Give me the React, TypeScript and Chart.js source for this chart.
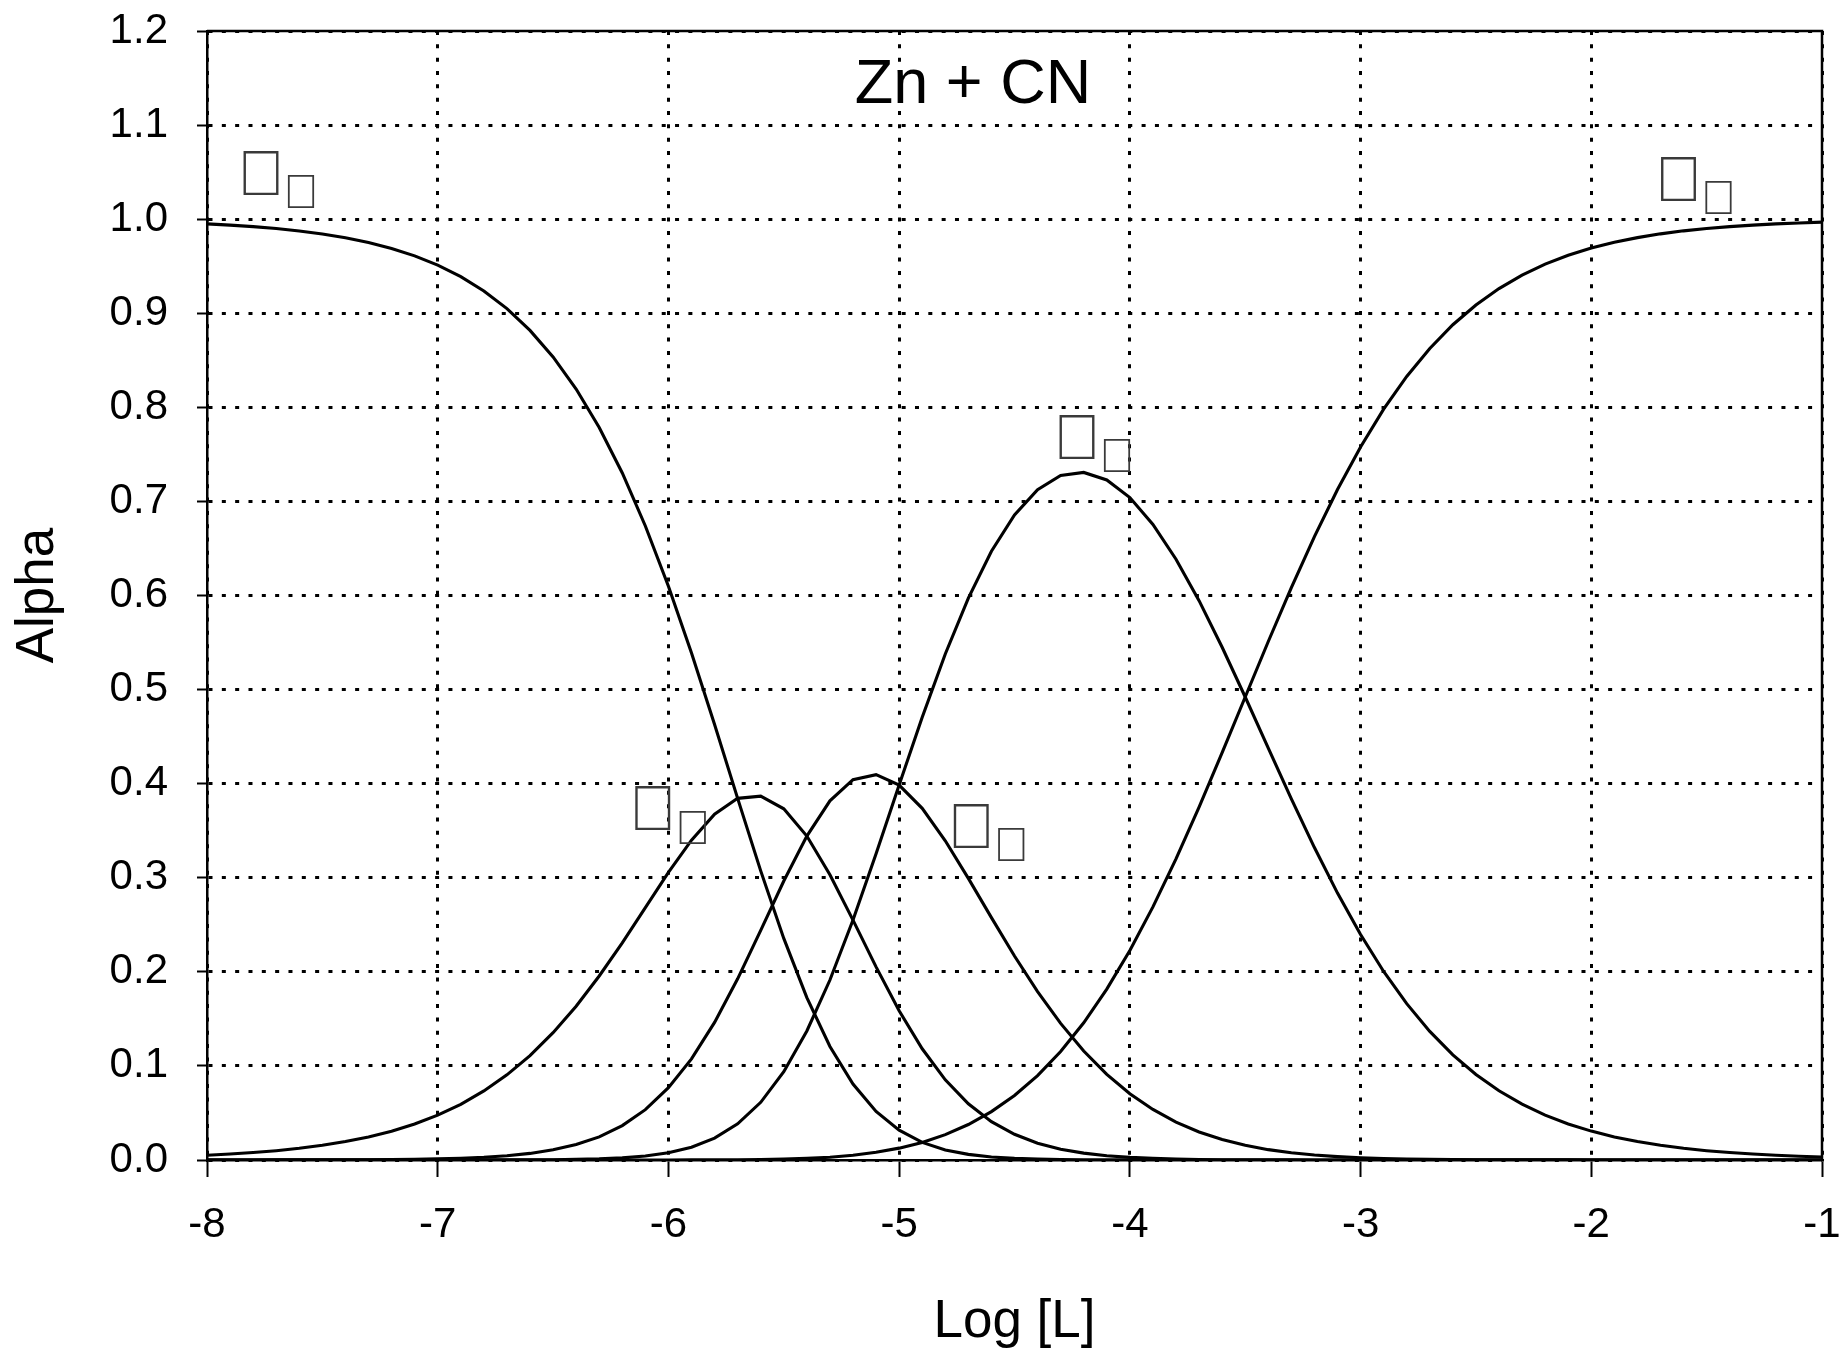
import React, { useEffect, useRef } from "react";
import { Chart, registerables } from "chart.js";

Chart.register(...registerables);

const FONT = '"Liberation Sans", Arial, Helvetica, sans-serif';

const chartTitle = "Zn + CN";
const xAxisTitle = "Log [L]";
const yAxisTitle = "Alpha";

// log [L] values (x)
const logL = [
  -8.0, -7.9, -7.8, -7.7, -7.6, -7.5, -7.4, -7.3, -7.2, -7.1,
  -7.0, -6.9, -6.8, -6.7, -6.6, -6.5, -6.4, -6.3, -6.2, -6.1,
  -6.0, -5.9, -5.8, -5.7, -5.6, -5.5, -5.4, -5.3, -5.2, -5.1,
  -5.0, -4.9, -4.8, -4.7, -4.6, -4.5, -4.4, -4.3, -4.2, -4.1,
  -4.0, -3.9, -3.8, -3.7, -3.6, -3.5, -3.4, -3.3, -3.2, -3.1,
  -3.0, -2.9, -2.8, -2.7, -2.6, -2.5, -2.4, -2.3, -2.2, -2.1,
  -2.0, -1.9, -1.8, -1.7, -1.6, -1.5, -1.4, -1.3, -1.2, -1.1, -1.0,
];

const alpha0 = [
  0.9950, 0.9937, 0.9921, 0.9901, 0.9875, 0.9843, 0.9803, 0.9752, 0.9689, 0.9610,
  0.9511, 0.9389, 0.9237, 0.9049, 0.8818, 0.8536, 0.8195, 0.7786, 0.7302, 0.6739,
  0.6099, 0.5389, 0.4628, 0.3844, 0.3073, 0.2355, 0.1726, 0.1207, 0.0807, 0.0516,
  0.0317, 0.0187, 0.0107, 0.0060, 0.0032, 0.0017, 0.0009, 0.0005, 0.0002, 0.0001,
  0.0001, 0, 0, 0, 0, 0, 0, 0, 0, 0,
  0, 0, 0, 0, 0, 0, 0, 0, 0, 0,
  0, 0, 0, 0, 0, 0, 0, 0, 0, 0, 0,
];

const alpha1 = [
  0.0050, 0.0063, 0.0079, 0.0099, 0.0124, 0.0156, 0.0196, 0.0245, 0.0306, 0.0383,
  0.0477, 0.0592, 0.0734, 0.0905, 0.1110, 0.1353, 0.1635, 0.1956, 0.2309, 0.2683,
  0.3057, 0.3400, 0.3676, 0.3844, 0.3868, 0.3733, 0.3443, 0.3032, 0.2550, 0.2053,
  0.1587, 0.1182, 0.0852, 0.0597, 0.0408, 0.0273, 0.0179, 0.0115, 0.0073, 0.0046,
  0.0028, 0.0017, 0.0010, 0.0006, 0.0003, 0.0002, 0.0001, 0.0001, 0, 0,
  0, 0, 0, 0, 0, 0, 0, 0, 0, 0,
  0, 0, 0, 0, 0, 0, 0, 0, 0, 0, 0,
];

const alpha2 = [
  0, 0, 0, 0.0001, 0.0001, 0.0001, 0.0002, 0.0003, 0.0005, 0.0008,
  0.0012, 0.0019, 0.0029, 0.0045, 0.0070, 0.0108, 0.0164, 0.0246, 0.0366, 0.0535,
  0.0768, 0.1075, 0.1463, 0.1926, 0.2441, 0.2965, 0.3443, 0.3817, 0.4042, 0.4096,
  0.3985, 0.3738, 0.3393, 0.2994, 0.2576, 0.2168, 0.1790, 0.1452, 0.1158, 0.0910,
  0.0704, 0.0537, 0.0403, 0.0298, 0.0217, 0.0156, 0.0110, 0.0077, 0.0053, 0.0036,
  0.0024, 0.0016, 0.0011, 0.0007, 0.0004, 0.0003, 0.0002, 0.0001, 0.0001, 0.0001,
  0, 0, 0, 0, 0, 0, 0, 0, 0, 0, 0,
];

const alpha3 = [
  0, 0, 0, 0, 0, 0, 0, 0, 0, 0,
  0, 0, 0.0001, 0.0001, 0.0002, 0.0003, 0.0007, 0.0012, 0.0023, 0.0043,
  0.0077, 0.0135, 0.0232, 0.0384, 0.0613, 0.0938, 0.1371, 0.1913, 0.2550, 0.3254,
  0.3985, 0.4706, 0.5378, 0.5973, 0.6470, 0.6856, 0.7125, 0.7275, 0.7308, 0.7228,
  0.7041, 0.6756, 0.6386, 0.5945, 0.5450, 0.4921, 0.4378, 0.3839, 0.3321, 0.2837,
  0.2397, 0.2004, 0.1662, 0.1367, 0.1118, 0.0909, 0.0736, 0.0593, 0.0477, 0.0383,
  0.0307, 0.0245, 0.0196, 0.0156, 0.0124, 0.0099, 0.0079, 0.0063, 0.0050, 0.0040, 0.0032,
];

const alpha4 = [
  0, 0, 0, 0, 0, 0, 0, 0, 0, 0,
  0, 0, 0, 0, 0, 0, 0, 0, 0, 0,
  0, 0.0001, 0.0001, 0.0002, 0.0005, 0.0009, 0.0017, 0.0030, 0.0051, 0.0082,
  0.0126, 0.0187, 0.0270, 0.0377, 0.0514, 0.0686, 0.0897, 0.1153, 0.1458, 0.1816,
  0.2227, 0.2690, 0.3201, 0.3751, 0.4329, 0.4921, 0.5511, 0.6084, 0.6626, 0.7127,
  0.7579, 0.7980, 0.8328, 0.8626, 0.8878, 0.9088, 0.9262, 0.9405, 0.9522, 0.9616,
  0.9693, 0.9755, 0.9804, 0.9844, 0.9876, 0.9901, 0.9921, 0.9937, 0.9950, 0.9960, 0.9969,
];

const seriesNames = ["alpha0", "alpha1", "alpha2", "alpha3", "alpha4"];
const seriesValues = [alpha0, alpha1, alpha2, alpha3, alpha4];

// Curve labels: Symbol-font alpha + subscript digit (these render as empty
// missing-glyph boxes, as in the reference picture)
const labelMain = ["\uF061", "\uF061", "\uF061", "\uF061", "\uF061"];
const labelSub = ["\uF030", "\uF031", "\uF032", "\uF033", "\uF034"];
const labelX = [-7.766, -6.068, -4.688, -4.229, -1.622];
const labelY = [1.049, 0.3737, 0.3548, 0.7686, 1.0426];

const titleX = -4.68;
const titleY = 1.1234;

const xTicks = [-8, -7, -6, -5, -4, -3, -2, -1];

function drawCenteredGlyph(ctx: CanvasRenderingContext2D, text: string, cx: number, cy: number, targetH: number) {
  ctx.font = `100px ${FONT}`;
  const m = ctx.measureText(text);
  const h = m.actualBoundingBoxAscent + m.actualBoundingBoxDescent;
  const size = h > 0 ? (100 * targetH) / h : targetH;
  ctx.font = `${size}px ${FONT}`;
  const m2 = ctx.measureText(text);
  const x = cx + (m2.actualBoundingBoxLeft - m2.actualBoundingBoxRight) / 2;
  const y = cy + (m2.actualBoundingBoxAscent - m2.actualBoundingBoxDescent) / 2;
  ctx.fillText(text, x, y);
}

const overlayPlugin = {
  id: "overlay",
  afterDatasetsDraw(chart: any) {
    const { ctx, chartArea: a, scales } = chart;
    const xs = scales.x;
    const ys = scales.y;
    ctx.save();
    // frame (top + right)
    ctx.strokeStyle = "#000";
    ctx.lineWidth = 2.5;
    ctx.setLineDash([]);
    ctx.beginPath();
    ctx.moveTo(a.left, a.top);
    ctx.lineTo(a.right, a.top);
    ctx.lineTo(a.right, a.bottom);
    ctx.stroke();

    // chart title inside the plot
    ctx.fillStyle = "#000";
    ctx.textAlign = "center";
    ctx.textBaseline = "alphabetic";
    ctx.font = `63px ${FONT}`;
    ctx.fillText(chartTitle, xs.getPixelForValue(titleX), ys.getPixelForValue(titleY));

    // curve labels
    ctx.textAlign = "left";
    ctx.fillStyle = "#3a3a3a";
    for (let i = 0; i < labelMain.length; i++) {
      const cx = xs.getPixelForValue(labelX[i]);
      const cy = ys.getPixelForValue(labelY[i]);
      drawCenteredGlyph(ctx, labelMain[i], cx, cy, 44);
      drawCenteredGlyph(ctx, labelSub[i], cx + 40, cy + 18.7, 33);
    }
    ctx.restore();
  },
};

export default function App() {
  const ref = useRef<HTMLCanvasElement>(null);

  useEffect(() => {
    const canvas = ref.current;
    if (!canvas) return;
    Chart.defaults.font.family = FONT;
    const datasets = seriesValues.map((vals, si) => ({
      label: seriesNames[si],
      data: logL.map((x, i) => ({ x, y: vals[i] })),
      borderColor: "#000",
      backgroundColor: "#000",
      borderWidth: 3.1,
      pointRadius: 0,
      tension: 0,
      fill: false,
    }));

    const chart = new Chart(canvas, {
      type: "line",
      data: { datasets },
      options: {
        responsive: false,
        animation: false,
        devicePixelRatio: 1,
        layout: { padding: { top: 31, right: 21, left: 0, bottom: 0 } },
        plugins: {
          legend: { display: false },
          tooltip: { enabled: false },
          title: { display: false },
        },
        scales: {
          x: {
            type: "linear",
            min: -8,
            max: -1,
            afterFit: (s: any) => {
              s.height = 194;
              s.paddingLeft = 0;
              s.paddingRight = 0;
              s.paddingTop = 0;
              s.paddingBottom = 0;
            },
            afterBuildTicks: (s: any) => {
              s.ticks = xTicks.map((v) => ({ value: v }));
            },
            ticks: {
              color: "#000",
              font: { family: FONT, size: 42 },
              padding: 23,
              maxRotation: 0,
              autoSkip: false,
              callback: (v: any) => String(v),
            },
            grid: {
              color: "#000",
              lineWidth: 3,
              tickLength: 17,
              tickColor: "#000",
              tickWidth: 2,
            },
            border: { display: true, color: "#000", width: 2.5, dash: [4, 9.33] },
            title: {
              display: true,
              text: xAxisTitle,
              color: "#000",
              font: { family: FONT, size: 53 },
              padding: { top: 0, bottom: 0 },
            },
          },
          y: {
            type: "linear",
            min: 0,
            max: 1.2,
            afterFit: (s: any) => {
              s.width = 207;
              s.paddingLeft = 0;
              s.paddingRight = 0;
              s.paddingTop = 0;
              s.paddingBottom = 0;
            },
            ticks: {
              stepSize: 0.1,
              color: "#000",
              font: { family: FONT, size: 42 },
              padding: 29,
              autoSkip: false,
              callback: (v: any) => Number(v).toFixed(1),
            },
            grid: {
              color: "#000",
              lineWidth: 3,
              tickLength: 10,
              tickColor: "#000",
              tickWidth: 2,
            },
            border: { display: true, color: "#000", width: 2.5, dash: [4, 9.33] },
            title: {
              display: true,
              text: yAxisTitle,
              color: "#000",
              font: { family: FONT, size: 53 },
              padding: { top: 7, bottom: 0 },
            },
          },
        },
      },
      plugins: [overlayPlugin],
    } as any);

    return () => chart.destroy();
  }, []);

  return (
    <div
      style={{
        position: "fixed",
        left: 0,
        top: 0,
        width: 1843,
        height: 1354,
        background: "#fff",
      }}
    >
      <canvas ref={ref} width={1843} height={1354} style={{ width: 1843, height: 1354, display: "block" }} />
    </div>
  );
}
